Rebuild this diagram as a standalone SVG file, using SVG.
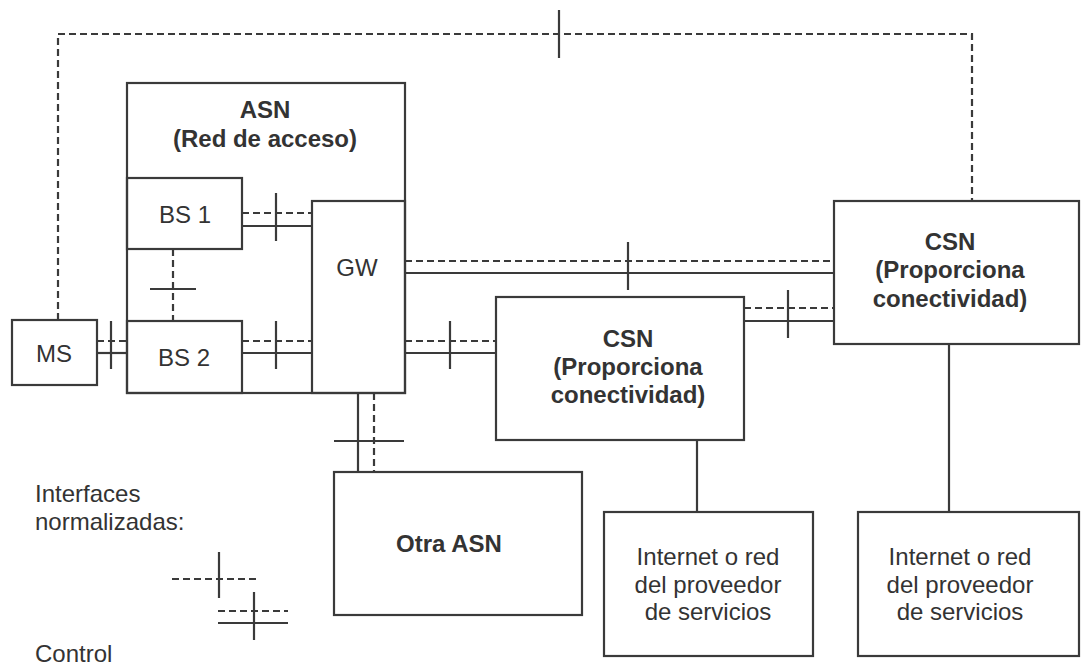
<svg xmlns="http://www.w3.org/2000/svg" width="1082" height="666" viewBox="0 0 1082 666">
<style>
.box{fill:none;stroke:#3a3a3a;stroke-width:2.2}
.s{fill:none;stroke:#3a3a3a;stroke-width:2.2}
.d{fill:none;stroke:#3a3a3a;stroke-width:2.2;stroke-dasharray:7 4}
.t{font-family:"Liberation Sans",Arial,sans-serif;font-size:24px;fill:#333;text-anchor:middle}
.b{font-weight:bold}
.l{text-anchor:start}
</style>
<rect width="1082" height="666" fill="#fff"/>
<g id="connectors">
  <path class="d" d="M58,320 V34 H972 V201"/>
  <line class="s" x1="559" y1="10" x2="559" y2="58"/>
  <line class="d" x1="173" y1="249" x2="173" y2="321"/>
  <line class="s" x1="150" y1="289" x2="196" y2="289"/>
  <line class="d" x1="242" y1="213" x2="312" y2="213"/>
  <line class="s" x1="242" y1="226" x2="312" y2="226"/>
  <line class="s" x1="276" y1="193" x2="276" y2="241"/>
  <line class="d" x1="242" y1="341" x2="312" y2="341"/>
  <line class="s" x1="242" y1="353" x2="312" y2="353"/>
  <line class="s" x1="276" y1="321" x2="276" y2="369"/>
  <line class="d" x1="97" y1="341" x2="127" y2="341"/>
  <line class="s" x1="97" y1="353" x2="127" y2="353"/>
  <line class="s" x1="111" y1="321" x2="111" y2="369"/>
  <line class="d" x1="405" y1="341" x2="496" y2="341"/>
  <line class="s" x1="405" y1="353" x2="496" y2="353"/>
  <line class="s" x1="450" y1="321" x2="450" y2="369"/>
  <line class="s" x1="358" y1="393" x2="358" y2="472"/>
  <line class="d" x1="374" y1="393" x2="374" y2="472"/>
  <line class="s" x1="334" y1="441" x2="404" y2="441"/>
  <line class="d" x1="405" y1="261" x2="834" y2="261"/>
  <line class="s" x1="405" y1="273" x2="834" y2="273"/>
  <line class="s" x1="628" y1="242" x2="628" y2="290"/>
  <line class="d" x1="744" y1="308" x2="834" y2="308"/>
  <line class="s" x1="744" y1="321" x2="834" y2="321"/>
  <line class="s" x1="788" y1="290" x2="788" y2="338"/>
  <line class="s" x1="697" y1="440" x2="697" y2="512"/>
  <line class="s" x1="949" y1="344" x2="949" y2="512"/>
</g>
<g id="asn">
  <rect class="box" x="127" y="83" width="278" height="310"/>
  <text class="t b" x="265" y="118">ASN</text>
  <text class="t b" x="265" y="147">(Red de acceso)</text>
</g>
<g id="bs1">
  <rect class="box" x="127" y="178" width="115" height="71"/>
  <text class="t" x="185" y="223">BS 1</text>
</g>
<g id="bs2">
  <rect class="box" x="127" y="321" width="115" height="72"/>
  <text class="t" x="184" y="366">BS 2</text>
</g>
<g id="gw">
  <rect class="box" x="312" y="201" width="93" height="192"/>
  <text class="t" x="357" y="276">GW</text>
</g>
<g id="ms">
  <rect class="box" x="12" y="320" width="85" height="65"/>
  <text class="t" x="54" y="362">MS</text>
</g>
<g id="csn1">
  <rect class="box" x="496" y="297" width="248" height="143"/>
  <text class="t b" x="628" y="347">CSN</text>
  <text class="t b" x="628" y="375">(Proporciona</text>
  <text class="t b" x="628" y="403">conectividad)</text>
</g>
<g id="csn2">
  <rect class="box" x="834" y="201" width="245" height="143"/>
  <text class="t b" x="950" y="250">CSN</text>
  <text class="t b" x="950" y="278">(Proporciona</text>
  <text class="t b" x="950" y="307">conectividad)</text>
</g>
<g id="otra-asn">
  <rect class="box" x="334" y="472" width="248" height="143"/>
  <text class="t b" x="449" y="552">Otra ASN</text>
</g>
<g id="internet1">
  <rect class="box" x="604" y="512" width="209" height="144"/>
  <text class="t" x="708" y="565">Internet o red</text>
  <text class="t" x="708" y="593">del proveedor</text>
  <text class="t" x="708" y="620">de servicios</text>
</g>
<g id="internet2">
  <rect class="box" x="858" y="512" width="221" height="144"/>
  <text class="t" x="960" y="565">Internet o red</text>
  <text class="t" x="960" y="593">del proveedor</text>
  <text class="t" x="960" y="620">de servicios</text>
</g>
<g id="legend">
  <text class="t l" x="35" y="502">Interfaces</text>
  <text class="t l" x="35" y="530">normalizadas:</text>
  <line class="d" x1="172" y1="579" x2="260" y2="579"/>
  <line class="s" x1="219" y1="552" x2="219" y2="598"/>
  <line class="d" x1="218" y1="611" x2="288" y2="611"/>
  <line class="s" x1="218" y1="623" x2="288" y2="623"/>
  <line class="s" x1="254" y1="592" x2="254" y2="640"/>
  <text class="t l" x="35" y="662">Control</text>
</g>
</svg>
